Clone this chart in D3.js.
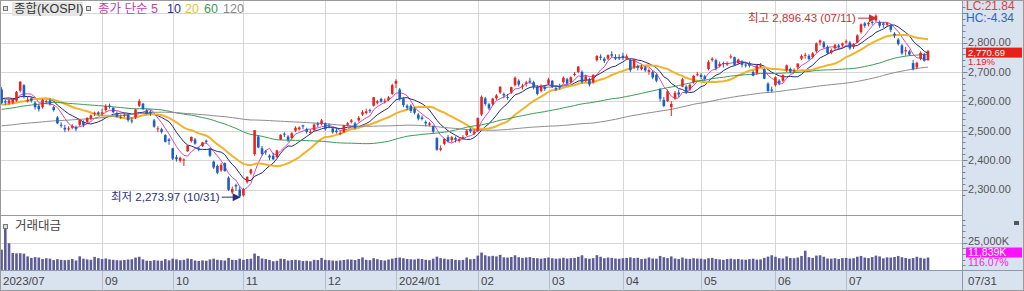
<!DOCTYPE html>
<html>
<head>
<meta charset="utf-8">
<script src="https://cdn.jsdelivr.net/npm/d3@7/dist/d3.min.js"></script>
<style>
  body { margin: 0; background: #fff; }
  svg { display: block; font-family: "Liberation Sans", "Noto Sans CJK KR", sans-serif; }
</style>
</head>
<body>
<div id="chart"></div>
<script>
// month labels on the time axis and trading days per month (2023/07/25 .. 2024/07/31)
const monthLabels = ["2023/07", null, "09", "10", "11", "12", "2024/01", "02", "03", "04", "05", "06", "07"];
const monthDays = [5, 22, 19, 19, 22, 19, 22, 19, 20, 21, 20, 19, 23];
const lastDateLabel = "07/31";

// closes before the window, only used to warm up the moving averages
const priorClose = [
  2449, 2468, 2480, 2438, 2452, 2483, 2481, 2469, 2452, 2465, 2427, 2475, 2451, 2455, 2458, 2417, 2439, 2423, 2402, 2412,
  2421, 2432, 2462, 2463, 2431, 2432, 2394, 2410, 2348, 2379, 2377, 2395, 2378, 2388, 2417, 2416, 2415, 2400, 2434, 2444, 2453, 2476,
  2472, 2480, 2495, 2478, 2490, 2512, 2547, 2550, 2561, 2571, 2575, 2575, 2571, 2563, 2544, 2523, 2489, 2485, 2495, 2501,
  2505, 2506, 2508, 2515, 2516, 2502, 2498, 2482, 2486, 2488, 2502, 2522, 2545, 2566, 2574, 2572, 2562, 2566, 2592, 2585,
  2605, 2606, 2618, 2620, 2614, 2645, 2634, 2641, 2624, 2612, 2630, 2614, 2609, 2588, 2598, 2576, 2588, 2586, 2570, 2556, 2570,
  2606, 2598, 2584, 2562, 2532, 2526, 2566, 2578, 2596, 2630, 2622, 2612, 2611, 2604, 2612, 2630
];

const open = [
  2640, 2600, 2594, 2596, 2602,
  2636, 2655, 2600, 2610, 2595, 2585, 2580, 2598, 2603, 2580, 2545, 2520, 2510, 2505, 2510, 2512, 2520, 2530, 2530, 2540, 2560, 2562,
  2558, 2570, 2585, 2578, 2560, 2545, 2550, 2555, 2535, 2545, 2585, 2592, 2568, 2565, 2535, 2505, 2505, 2485, 2470,
  2440, 2410, 2398, 2400, 2430, 2465, 2470, 2440, 2448, 2466, 2440, 2395, 2380, 2365, 2390, 2340, 2290, 2315, 2300,
  2280, 2325, 2355, 2420, 2480, 2440, 2430, 2415, 2415, 2410, 2470, 2490, 2480, 2475, 2500, 2505, 2518, 2505, 2492, 2502, 2525, 2522,
  2525, 2515, 2508, 2500, 2490, 2495, 2520, 2530, 2525, 2535, 2555, 2560, 2570, 2585, 2595, 2608, 2600, 2605, 2625,
  2660, 2640, 2610, 2585, 2585, 2575, 2555, 2545, 2530, 2520, 2515, 2475, 2435, 2455, 2478, 2468, 2475, 2465, 2475, 2485, 2505, 2490,
  2500, 2555, 2610, 2590, 2590, 2610, 2630, 2625, 2615, 2630, 2655, 2670, 2650, 2660, 2670, 2665, 2650, 2635, 2650,
  2660, 2670, 2645, 2650, 2665, 2675, 2665, 2690, 2700, 2700, 2670, 2675, 2665, 2740, 2752, 2745, 2745, 2760, 2750, 2750,
  2755, 2745, 2740, 2715, 2720, 2710, 2715, 2700, 2700, 2690, 2640, 2605, 2600, 2580, 2610, 2630, 2650, 2650, 2640, 2665, 2690,
  2690, 2685, 2710, 2740, 2740, 2720, 2730, 2725, 2750, 2750, 2730, 2735, 2725, 2730, 2700, 2695, 2718, 2710, 2660, 2640,
  2655, 2670, 2670, 2705, 2710, 2705, 2715, 2745, 2755, 2755, 2750, 2770, 2800, 2800, 2785, 2765, 2780, 2790, 2790,
  2800, 2800, 2785, 2800, 2835, 2865, 2862, 2870, 2875, 2870, 2865, 2860, 2860, 2830, 2810, 2790, 2770, 2770, 2730, 2715, 2745, 2760, 2740
];
const high = [
  2648, 2606, 2608, 2612, 2635,
  2668, 2658, 2615, 2615, 2600, 2590, 2608, 2606, 2610, 2585, 2550, 2528, 2520, 2515, 2522, 2518, 2540, 2535, 2546, 2555, 2565, 2566,
  2575, 2590, 2592, 2580, 2565, 2555, 2560, 2558, 2545, 2575, 2608, 2595, 2575, 2570, 2540, 2515, 2510, 2488, 2475,
  2442, 2418, 2412, 2406, 2452, 2480, 2475, 2445, 2462, 2470, 2442, 2398, 2385, 2390, 2392, 2345, 2310, 2320, 2310,
  2305, 2345, 2370, 2502, 2485, 2448, 2435, 2420, 2425, 2435, 2488, 2495, 2485, 2495, 2515, 2515, 2520, 2510, 2505, 2525, 2530, 2540,
  2528, 2525, 2512, 2510, 2500, 2520, 2530, 2540, 2530, 2550, 2570, 2575, 2575, 2615, 2605, 2612, 2610, 2618, 2660,
  2675, 2645, 2615, 2590, 2590, 2580, 2560, 2552, 2535, 2530, 2518, 2478, 2450, 2475, 2485, 2482, 2480, 2475, 2485, 2505, 2510, 2505,
  2545, 2620, 2615, 2595, 2612, 2625, 2652, 2630, 2625, 2650, 2685, 2675, 2660, 2670, 2680, 2670, 2655, 2658, 2655,
  2680, 2672, 2655, 2660, 2685, 2680, 2685, 2700, 2720, 2705, 2690, 2680, 2692, 2757, 2760, 2750, 2760, 2770, 2760, 2760,
  2765, 2760, 2745, 2745, 2725, 2725, 2720, 2712, 2705, 2695, 2645, 2615, 2640, 2600, 2635, 2640, 2680, 2655, 2660, 2690, 2700,
  2695, 2690, 2740, 2750, 2745, 2735, 2735, 2735, 2760, 2752, 2745, 2740, 2730, 2735, 2705, 2725, 2730, 2712, 2665, 2650,
  2685, 2675, 2692, 2725, 2715, 2712, 2730, 2760, 2765, 2760, 2768, 2800, 2810, 2805, 2790, 2780, 2795, 2795, 2800,
  2810, 2805, 2798, 2828, 2865, 2870, 2870, 2875, 2896.43, 2875, 2870, 2870, 2862, 2835, 2815, 2795, 2785, 2775, 2740, 2735, 2770, 2765, 2775
];
const low = [
  2590, 2588, 2588, 2590, 2598,
  2630, 2610, 2596, 2596, 2572, 2565, 2575, 2590, 2585, 2565, 2522, 2510, 2495, 2498, 2505, 2498, 2515, 2512, 2525, 2536, 2550, 2552,
  2550, 2565, 2575, 2560, 2545, 2540, 2545, 2530, 2525, 2540, 2580, 2570, 2555, 2550, 2510, 2495, 2490, 2460, 2452,
  2400, 2395, 2392, 2380, 2428, 2460, 2452, 2430, 2445, 2455, 2410, 2370, 2352, 2360, 2360, 2295, 2285, 2295, 2273.97,
  2276, 2320, 2350, 2415, 2440, 2415, 2418, 2400, 2400, 2408, 2468, 2478, 2462, 2470, 2495, 2500, 2505, 2490, 2488, 2498, 2512, 2518,
  2500, 2508, 2490, 2490, 2485, 2493, 2515, 2525, 2505, 2530, 2550, 2555, 2560, 2582, 2590, 2595, 2592, 2600, 2622,
  2645, 2602, 2580, 2570, 2560, 2555, 2535, 2535, 2515, 2515, 2490, 2432, 2430, 2450, 2460, 2460, 2460, 2460, 2470, 2482, 2492, 2485,
  2495, 2550, 2585, 2570, 2585, 2605, 2625, 2610, 2605, 2625, 2650, 2650, 2640, 2650, 2660, 2640, 2620, 2630, 2635,
  2655, 2645, 2635, 2640, 2660, 2655, 2660, 2685, 2695, 2660, 2665, 2650, 2660, 2735, 2740, 2730, 2740, 2750, 2740, 2740,
  2740, 2740, 2700, 2710, 2705, 2705, 2700, 2690, 2675, 2665, 2600, 2580, 2598, 2550, 2605, 2615, 2648, 2625, 2635, 2660, 2685,
  2675, 2670, 2705, 2735, 2705, 2715, 2715, 2720, 2745, 2720, 2725, 2715, 2715, 2715, 2685, 2690, 2715, 2675, 2630, 2630,
  2650, 2655, 2665, 2700, 2695, 2698, 2710, 2740, 2745, 2740, 2745, 2765, 2790, 2780, 2760, 2760, 2775, 2780, 2785,
  2795, 2775, 2778, 2798, 2830, 2850, 2855, 2860, 2870, 2850, 2850, 2855, 2835, 2815, 2790, 2758, 2755, 2755, 2705, 2710, 2740, 2735, 2738
];
const close = [
  2594, 2596, 2603, 2608, 2632,
  2667, 2616, 2605, 2602, 2580, 2573, 2605, 2601, 2591, 2570, 2525, 2519, 2504, 2508, 2516, 2505, 2537, 2519, 2543, 2552, 2561, 2556,
  2563, 2584, 2582, 2563, 2548, 2547, 2553, 2536, 2534, 2572, 2601, 2574, 2559, 2559, 2514, 2508, 2496, 2462, 2465,
  2405, 2403, 2408, 2402, 2450, 2479, 2456, 2436, 2460, 2462, 2415, 2375, 2357, 2383, 2363, 2299, 2302, 2310, 2277,
  2301, 2343, 2368, 2502, 2443, 2421, 2427, 2409, 2403, 2433, 2486, 2488, 2469, 2491, 2510, 2511, 2514, 2496, 2496, 2521, 2520, 2535,
  2505, 2514, 2495, 2495, 2492, 2518, 2525, 2535, 2510, 2544, 2563, 2566, 2568, 2614, 2600, 2599, 2602, 2613, 2655,
  2669, 2607, 2587, 2578, 2567, 2561, 2541, 2540, 2525, 2525, 2497, 2435, 2440, 2472, 2464, 2478, 2469, 2470, 2478, 2500, 2498, 2497,
  2543, 2615, 2591, 2576, 2609, 2620, 2649, 2620, 2613, 2648, 2680, 2657, 2653, 2664, 2667, 2647, 2625, 2653, 2642,
  2674, 2649, 2641, 2647, 2680, 2660, 2682, 2693, 2718, 2666, 2685, 2657, 2690, 2754, 2748, 2737, 2757, 2755, 2745, 2746,
  2747, 2753, 2706, 2742, 2714, 2717, 2705, 2706, 2681, 2670, 2609, 2584, 2634, 2591, 2629, 2623, 2675, 2628, 2656, 2687, 2692,
  2683, 2676, 2734, 2745, 2712, 2727, 2727, 2730, 2753, 2724, 2742, 2724, 2723, 2721, 2687, 2722, 2722, 2677, 2635, 2636,
  2682, 2662, 2689, 2722, 2701, 2705, 2728, 2754, 2758, 2744, 2763, 2797, 2807, 2784, 2764, 2774, 2792, 2784, 2797,
  2804, 2780, 2794, 2824, 2862, 2857, 2867, 2868, 2891, 2857, 2860, 2866, 2843, 2824, 2795, 2763, 2774, 2759, 2710, 2731, 2765, 2738, 2770.69
];
// trading value (거래대금), K units
const tradeValue = [
  18700, 38200, 24400, 15800, 15500,
  15600, 15200, 12800, 11500, 12200, 11800, 10500, 11200, 10800, 9600, 10400, 9800, 9500, 9800, 10500, 9200, 12900, 10800, 10200, 9800, 12400, 11300,
  10500, 11000, 10200, 9800, 9500, 9300, 9700, 10100, 10300, 11800, 12500, 10200, 9000, 8800, 9500, 9200, 9000, 10400, 9300,
  10800, 10200, 9500, 9800, 11000, 10500, 9200, 8800, 9300, 9000, 10200, 10800, 9800, 9500, 9200, 11500, 9800, 9600, 10800,
  9800, 10500, 10800, 15300, 13200, 11000, 10500, 9800, 8600, 9000, 10800, 10500, 9200, 9600, 9800, 9400, 8800, 9000, 8500, 9800, 9600, 11500,
  9800, 9500, 9200, 9000, 9300, 9700, 10200, 10000, 9600, 10600, 11900, 9800, 9500, 11200, 10400, 9600, 9200, 10100, 10800,
  11500, 11800, 11200, 10500, 10300, 10100, 10800, 10500, 9800, 9500, 10800, 12600, 11300, 10800, 10200, 10500, 9800, 9500, 9700, 11800, 10300, 10600,
  13500, 16200, 13800, 12900, 13300, 12800, 14200, 12000, 11800, 12300, 13800, 12100, 11500, 11900, 12200, 11400, 11200, 10800, 11300,
  11800, 11200, 10800, 11000, 11600, 10900, 11300, 11500, 12400, 13800, 11200, 10800, 11300, 13900, 12500, 11200, 11800, 11500, 11000, 10800,
  11200, 11500, 12000, 11300, 11600, 10500, 10800, 11900, 11000, 10800, 13200, 12100, 11300, 12800, 11000, 10500, 11800, 10800, 10600, 11200, 10900,
  10800, 10300, 11200, 11500, 10600, 10200, 9800, 10500, 10800, 10300, 10600, 10100, 9900, 10400, 10800, 10000, 10200, 11500, 12600, 13800,
  12500, 11200, 11000, 12800, 11500, 11200, 11800, 13200, 17800, 12100, 11500, 13500, 13800, 12500, 11000, 10800, 11200, 10500, 11300,
  11500, 10900, 11200, 12500, 13200, 11800, 11300, 12200, 13500, 12800, 11100, 12000, 11800, 12300, 13200, 12100, 11400, 10800, 11300, 12500, 11600, 10900, 11839
];
const maPeriods = [5, 10, 20, 60, 120];
const maColors = ["#d848b8", "#22287a", "#f0b42c", "#3c9a58", "#8c8c8c"];
const priceTicks = [2300, 2400, 2500, 2600, 2700, 2800, 2900];
const lcText = "LC:21.84", hcText = "HC:-4.34", changePct = "1.19%", valuePct = "116.07%";

const W = 1024, H = 291, plotR = 962.5;
const n = close.length;
const svg = d3.select("#chart").append("svg").attr("width", W).attr("height", H);

const x = d3.scaleLinear().domain([0, 249]).range([1.6, 928]);
const y = d3.scaleLinear().domain([2300, 2800]).range([189.5, 42.5]);
const v = d3.scaleLinear().domain([0, 25000]).range([271, 242.5]);

const UP = "#e8241e", DOWN = "#1e5cc8", BAND = "#d9e3ef";

svg.append("rect").attr("width", W).attr("height", H).attr("fill", "#fff");
svg.append("rect").attr("x", plotR).attr("width", W - plotR).attr("height", H).attr("fill", BAND);
svg.append("rect").attr("y", 271).attr("width", plotR).attr("height", 20).attr("fill", BAND);

const defs = svg.append("defs");
defs.append("clipPath").attr("id", "pclip").append("rect").attr("width", plotR).attr("height", 214);

// month starts
const starts = [];
let acc = 0;
monthDays.forEach((d, k) => { starts.push({ i: acc, label: monthLabels[k], k }); acc += d; });

// vertical grid
svg.append("g").selectAll("line").data(starts.filter(s => s.k > 1)).join("line")
  .attr("x1", s => Math.round(x(s.i)) + 0.5).attr("x2", s => Math.round(x(s.i)) + 0.5)
  .attr("y1", 0).attr("y2", 271).attr("stroke", "#d6d6d6");
// horizontal grid
svg.append("g").selectAll("line").data(priceTicks).join("line")
  .attr("x1", 0).attr("x2", plotR).attr("y1", d => Math.round(y(d)) + 0.5).attr("y2", d => Math.round(y(d)) + 0.5)
  .attr("stroke", "#d6d6d6");
svg.append("line").attr("x1", 0).attr("x2", plotR).attr("y1", Math.round(v(25000)) + 0.5).attr("y2", Math.round(v(25000)) + 0.5)
  .attr("stroke", "#d6d6d6");

// moving averages
const all = priorClose.concat(close);
const off = priorClose.length;
const pane = svg.append("g").attr("clip-path", "url(#pclip)");
maPeriods.forEach((p, k) => {
  const pts = close.map((c, i) => [i, d3.mean(all.slice(off + i - p + 1, off + i + 1))]);
  pane.append("path").datum(pts)
    .attr("d", d3.line().x(d => x(d[0])).y(d => y(d[1])))
    .attr("fill", "none").attr("stroke", maColors[k]).attr("stroke-width", p === 20 ? 2 : 1);
});

// candles
const idx = d3.range(n);
const col = i => close[i] >= open[i] ? UP : DOWN;
pane.append("g").selectAll("line").data(idx).join("line")
  .attr("x1", i => x(i)).attr("x2", i => x(i)).attr("y1", i => y(high[i])).attr("y2", i => y(low[i]))
  .attr("stroke", col).attr("stroke-width", 1);
pane.append("g").selectAll("rect").data(idx).join("rect")
  .attr("x", i => x(i) - 1.3).attr("width", 2.6)
  .attr("y", i => y(Math.max(open[i], close[i])))
  .attr("height", i => Math.max(1, Math.abs(y(open[i]) - y(close[i]))))
  .attr("fill", col);

// volume bars
svg.append("g").selectAll("rect").data(idx).join("rect")
  .attr("x", i => x(i) - 1.3).attr("width", 2.6)
  .attr("y", i => v(tradeValue[i])).attr("height", i => 271 - v(tradeValue[i]))
  .attr("fill", "#5c5c96");

// pane separators and frame
svg.append("line").attr("x1", 0).attr("x2", plotR).attr("y1", 215.5).attr("y2", 215.5).attr("stroke", "#9a9a9a");
svg.append("line").attr("x1", 0).attr("x2", W).attr("y1", 270.5).attr("y2", 270.5).attr("stroke", "#8d99a8");
svg.append("line").attr("x1", plotR).attr("x2", plotR).attr("y1", 0).attr("y2", H).attr("stroke", "#8d99a8");
svg.append("rect").attr("x", 0.5).attr("y", 0.5).attr("width", W - 1).attr("height", H - 1)
  .attr("fill", "none").attr("stroke", "#9a9a9a");

// time axis
const tg = svg.append("g");
tg.selectAll("line").data(starts.filter(s => s.k > 1)).join("line")
  .attr("x1", s => Math.round(x(s.i)) + 0.5).attr("x2", s => Math.round(x(s.i)) + 0.5)
  .attr("y1", 271).attr("y2", H).attr("stroke", "#b4c0ce");
tg.selectAll("text").data(starts.filter(s => s.label)).join("text")
  .attr("x", s => s.k === 0 ? 3 : Math.round(x(s.i)) + 3).attr("y", 285)
  .attr("font-size", 11.5).attr("fill", "#444").text(s => s.label);
svg.append("text").attr("x", 968).attr("y", 285).attr("font-size", 11.5).attr("fill", "#444").text(lastDateLabel);

// price axis
const ag = svg.append("g");
ag.selectAll("line.minor").data(d3.range(2280, 2921, 20)).join("line")
  .attr("x1", plotR).attr("x2", d => plotR + (d % 100 === 0 ? 5 : 3))
  .attr("y1", d => Math.round(y(d)) + 0.5).attr("y2", d => Math.round(y(d)) + 0.5).attr("stroke", "#7a8696");
ag.selectAll("text").data(priceTicks.filter(d => d < 2900)).join("text")
  .attr("x", 968).attr("y", d => y(d)).attr("dy", "0.35em")
  .attr("font-size", 11).attr("fill", "#555")
  .text(d => d3.format(",.2f")(d));
ag.selectAll("line.vminor").data(d3.range(5000, 45001, 5000)).join("line")
  .attr("x1", plotR).attr("x2", d => plotR + (d === 25000 ? 5 : 3))
  .attr("y1", d => Math.round(v(d)) + 0.5).attr("y2", d => Math.round(v(d)) + 0.5).attr("stroke", "#7a8696");
ag.append("text").attr("x", 968).attr("y", v(25000) - 1).attr("dy", "0.35em")
  .attr("font-size", 11).attr("fill", "#555").text(d3.format(",")(25000) + "K");

svg.append("text").attr("x", 966).attr("y", 6).attr("dy", "0.35em").attr("font-size", 12).attr("fill", "#e03c3c").text(lcText);
svg.append("text").attr("x", 966).attr("y", 18).attr("dy", "0.35em").attr("font-size", 12).attr("fill", "#2e62c4").text(hcText);

// last price marker
const lastC = close[n - 1];
svg.append("rect").attr("x", 966).attr("y", y(lastC) - 3.5).attr("width", 56).attr("height", 10).attr("fill", "#e8201a");
svg.append("text").attr("x", 968).attr("y", y(lastC) + 1.4).attr("dy", "0.35em").attr("font-size", 9.5).attr("fill", "#fff")
  .text(d3.format(",.2f")(lastC));
svg.append("text").attr("x", 968).attr("y", y(lastC) + 10.9).attr("dy", "0.35em").attr("font-size", 9.5).attr("fill", "#e8201a")
  .text(changePct);

// last trading value marker
const lastV = tradeValue[n - 1];
svg.append("rect").attr("x", 966).attr("y", v(lastV) - 10).attr("width", 56).attr("height", 10).attr("fill", "#ff10ff");
svg.append("text").attr("x", 968).attr("y", v(lastV) - 5).attr("dy", "0.35em").attr("font-size", 10.5).attr("fill", "#fff")
  .text(d3.format(",")(lastV) + "K");
svg.append("text").attr("x", 968).attr("y", v(lastV) + 5).attr("dy", "0.35em").attr("font-size", 10.5).attr("fill", "#f020f0")
  .text(valuePct);
svg.append("rect").attr("x", 1014).attr("y", 221).attr("width", 5).attr("height", 4).attr("fill", "#555");

// high / low annotations
const iHi = d3.maxIndex(high), iLo = d3.minIndex(low);
function arrow(tipX, yy, color, label) {
  const g = svg.append("g");
  g.append("line").attr("x1", tipX - 19).attr("x2", tipX - 5).attr("y1", yy).attr("y2", yy).attr("stroke", color);
  g.append("path").attr("d", `M${tipX},${yy}L${tipX - 8},${yy - 4}L${tipX - 8},${yy + 4}Z`).attr("fill", color);
  g.append("text").attr("x", tipX - 21).attr("y", yy).attr("dy", "0.35em").attr("text-anchor", "end")
    .attr("font-size", 11.5).attr("fill", color).text(label);
}
arrow(x(iHi) + 1, y(high[iHi]) + 4, "#c8322e", "최고 " + d3.format(",.2f")(high[iHi]) + " (07/11)");
arrow(x(iLo) + 1, y(low[iLo]), "#2a2f80", "최저 " + d3.format(",.2f")(low[iLo]) + " (10/31)");

// legends
function icon(xx, yy) {
  svg.append("rect").attr("x", xx + 0.5).attr("y", yy + 0.5).attr("width", 4).attr("height", 4)
    .attr("fill", "#ddd").attr("stroke", "#777");
}
icon(3, 6);
svg.append("rect").attr("x", 12).attr("y", 2).attr("width", 71).attr("height", 14).attr("fill", "#e6e6e6");
svg.append("text").attr("x", 14).attr("y", 9).attr("dy", "0.35em").attr("font-size", 12.5).attr("fill", "#333").text("종합(KOSPI)");
icon(86, 6);
const legendItems = [
  { t: "종가 단순 5", x: 98, c: "#c83cb0" },
  { t: "10", x: 167, c: "#2a3088" },
  { t: "20", x: 185, c: "#e6c23a" },
  { t: "60", x: 204, c: "#3c9a58" },
  { t: "120", x: 223, c: "#888" }
];
svg.append("g").selectAll("text").data(legendItems).join("text")
  .attr("x", d => d.x).attr("y", 9).attr("dy", "0.35em").attr("font-size", 12.5).attr("fill", d => d.c).text(d => d.t);

icon(3, 224);
svg.append("text").attr("x", 15).attr("y", 226).attr("dy", "0.35em").attr("font-size", 12.5).attr("fill", "#444").text("거래대금");
</script>
</body>
</html>
